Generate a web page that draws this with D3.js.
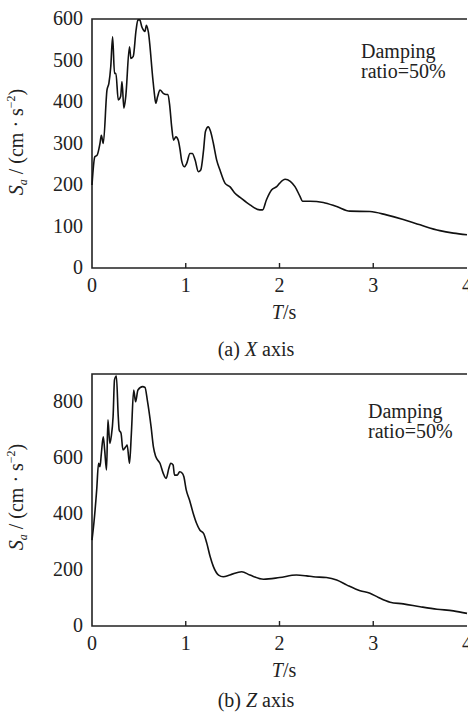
<!DOCTYPE html>
<html>
<head>
<meta charset="utf-8">
<script src="https://cdn.jsdelivr.net/npm/d3@7"></script>
<style>
  body { margin: 0; background: #fff; }
</style>
</head>
<body>
<svg width="468" height="717"></svg>
<script>
// response spectrum, X axis (T in s, Sa in cm/s^2)
var xPeriod = [0,0.03,0.055,0.085,0.10,0.12,0.16,0.18,0.20,0.22,0.24,0.255,0.28,0.305,0.32,0.34,0.36,0.40,0.415,0.44,0.47,0.49,0.51,0.53,0.55,0.565,0.58,0.60,0.65,0.665,0.68,0.70,0.725,0.76,0.79,0.81,0.83,0.85,0.87,0.895,0.92,0.94,0.955,0.985,1.01,1.045,1.07,1.10,1.135,1.16,1.19,1.21,1.24,1.265,1.295,1.33,1.365,1.42,1.47,1.525,1.58,1.685,1.79,1.82,1.86,1.915,1.97,2.0,2.06,2.115,2.165,2.22,2.245,2.325,2.467,2.61,2.75,2.965,3.14,3.32,3.5,3.71,3.855,4.0];
var xSa = [200,268,272,300,320,300,429,445,485,557,469,469,405,413,449,385,413,533,505,510,573,598,598,582,573,570,585,570,453,421,397,413,429,421,418,418,389,340,308,316,308,284,260,244,252,276,276,260,232,236,284,329,340,329,300,260,236,204,196,180,170,152,140,140,164,188,196,204,214,209,196,172,161,161,158,148,137,136,128,117,104,90,84,80];

// response spectrum, Z axis
var zPeriod = [0,0.02,0.05,0.07,0.085,0.10,0.12,0.135,0.155,0.17,0.19,0.205,0.225,0.24,0.26,0.28,0.29,0.31,0.33,0.36,0.375,0.40,0.42,0.445,0.465,0.49,0.54,0.565,0.59,0.63,0.655,0.68,0.725,0.76,0.79,0.82,0.84,0.865,0.88,0.91,0.935,0.965,0.98,1.005,1.04,1.08,1.115,1.15,1.19,1.225,1.26,1.295,1.35,1.40,1.47,1.597,1.685,1.83,2.0,2.18,2.29,2.36,2.5,2.61,2.72,2.86,2.965,3.055,3.18,3.32,3.5,3.68,3.855,4.0];
var zSa = [307,367,486,581,569,617,676,629,557,736,652,676,748,879,893,748,700,688,629,640,646,581,688,843,801,843,855,852,807,712,640,605,581,545,527,563,581,575,539,539,551,545,533,486,450,402,367,343,331,295,248,212,182,176,182,194,182,167,173,182,179,176,173,164,146,126,117,102,85,79,69,60,54,45];

var xTicks = [0, 1, 2, 3, 4];
var yTicksX = [0, 100, 200, 300, 400, 500, 600];
var yTicksZ = [0, 200, 400, 600, 800];

var svg = d3.select("svg");
var ink = "#222";
var serif = "'Liberation Serif'";

function drawPanel(opt) {
  var x = d3.scaleLinear().domain([0, 4]).range([92, 467]);
  var y = d3.scaleLinear().domain([0, opt.yMax]).range([opt.bottom, opt.top]);
  var g = svg.append("g").attr("fill", ink);

  // frame: left, top, bottom (no right border)
  g.append("path")
    .attr("d", "M" + x(4) + "," + y(opt.yMax) + "H" + x(0) + "V" + y(0) + "H" + x(4))
    .attr("fill", "none").attr("stroke", ink).attr("stroke-width", 1.6);

  // x ticks point inward
  g.selectAll(".xt").data(xTicks.slice(1, 4)).enter().append("line")
    .attr("x1", function(d) { return x(d); }).attr("x2", function(d) { return x(d); })
    .attr("y1", y(0)).attr("y2", y(0) - 5)
    .attr("stroke", ink).attr("stroke-width", 1.4);

  g.selectAll(".xl").data(xTicks).enter().append("text")
    .attr("x", function(d) { return x(d); })
    .attr("y", y(0) + 24)
    .attr("text-anchor", "middle").attr("font-size", 20)
    .text(function(d) { return d; });

  g.selectAll(".yl").data(opt.yTicks).enter().append("text")
    .attr("x", 83)
    .attr("y", function(d) { return y(d) + 6; })
    .attr("text-anchor", "end").attr("font-size", 20)
    .text(function(d) { return d; });

  var line = d3.line()
    .x(function(d) { return x(d[0]); })
    .y(function(d) { return y(d[1]); })
    .curve(d3.curveMonotoneX);
  g.append("path")
    .datum(d3.zip(opt.period, opt.sa))
    .attr("d", line)
    .attr("fill", "none").attr("stroke", "#111").attr("stroke-width", 1.6)
    .attr("stroke-linejoin", "round");

  // damping note
  var note = g.append("text").attr("font-size", 20).attr("x", opt.noteX);
  note.append("tspan").attr("x", opt.noteX).attr("y", opt.noteY).text("Damping");
  note.append("tspan").attr("x", opt.noteX).attr("y", opt.noteY + 20).text("ratio=50%");

  // y axis title
  var yl = g.append("text")
    .attr("transform", "translate(" + 23 + "," + opt.yLabelY + ") rotate(-90)")
    .attr("text-anchor", "middle").attr("font-size", 20);
  yl.append("tspan").attr("font-style", "italic").text("S");
  yl.append("tspan").attr("font-style", "italic").attr("font-size", 12).attr("dy", 4).text("a");
  yl.append("tspan").attr("dy", -4).text(" / (cm · s");
  yl.append("tspan").attr("font-size", 12).attr("dy", -8).text("−2");
  yl.append("tspan").attr("dy", 8).text(")");

  // x axis title
  var xl = g.append("text")
    .attr("x", 284).attr("y", y(0) + 51)
    .attr("text-anchor", "middle").attr("font-size", 20);
  xl.append("tspan").attr("font-style", "italic").text("T");
  xl.append("tspan").text("/s");

  // caption
  var cap = g.append("text")
    .attr("x", 256).attr("y", opt.captionY)
    .attr("text-anchor", "middle").attr("font-size", 20);
  cap.append("tspan").text(opt.capPrefix + "  ");
  cap.append("tspan").attr("font-style", "italic").text(opt.capAxis);
  cap.append("tspan").text(" axis");

  g.selectAll("text").style("font-family", serif);
}

drawPanel({ period: xPeriod, sa: xSa, yMax: 600, yTicks: yTicksX, top: 19, bottom: 268,
  noteX: 361, noteY: 58, yLabelY: 142, captionY: 356, capPrefix: "(a)", capAxis: "X" });
drawPanel({ period: zPeriod, sa: zSa, yMax: 900, yTicks: yTicksZ, top: 374, bottom: 626,
  noteX: 368, noteY: 418, yLabelY: 497, captionY: 707, capPrefix: "(b)", capAxis: "Z" });
</script>
</body>
</html>
